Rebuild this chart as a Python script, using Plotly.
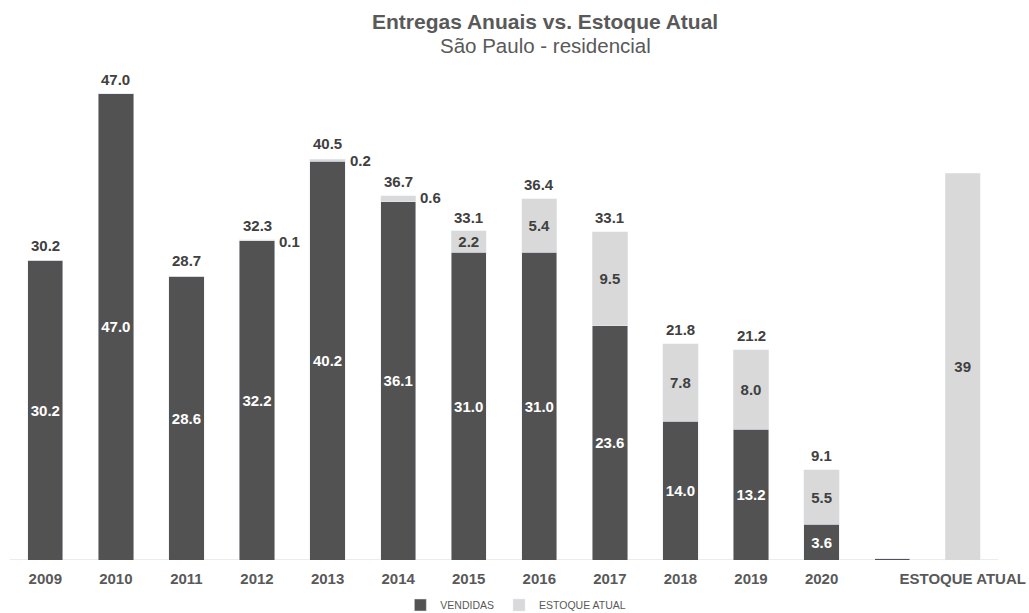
import plotly.graph_objects as go

categories = ["2009", "2010", "2011", "2012", "2013", "2014", "2015", "2016",
              "2017", "2018", "2019", "2020", "", "ESTOQUE ATUAL"]
vendidas = [30.2, 47.0, 28.6, 32.2, 40.2, 36.1, 31.0, 31.0, 23.6, 14.0, 13.2, 3.6, 0.15, 0.0]
estoque = [0.0, 0.0, 0.0, 0.1, 0.2, 0.6, 2.2, 5.4, 9.5, 7.8, 8.0, 5.5, 0.0, 39.0]
totais = [30.2, 47.0, 28.7, 32.3, 40.5, 36.7, 33.1, 36.4, 33.1, 21.8, 21.2, 9.1, None, None]

DARK = "#525252"
LIGHT = "#d9d9d9"
TXT = "#404040"
FONT = "Liberation Sans, Arial, sans-serif"
LBL = 15

x = list(range(len(categories)))

vend_text = [f"{v:.1f}" if v >= 1 else "" for v in vendidas]
est_text = [f"{v:.1f}" if v >= 1 else "" for v in estoque]
est_text[-1] = f"{estoque[-1]:.0f}"

fig = go.Figure()
fig.add_trace(go.Bar(
    x=x, y=vendidas, name="VENDIDAS", marker_color=DARK,
    text=vend_text, textposition="inside", insidetextanchor="middle",
    textangle=0, constraintext="none",
    insidetextfont=dict(color="white", size=LBL, family=FONT, weight="bold"),
    hoverinfo="skip",
))
fig.add_trace(go.Bar(
    x=x, y=estoque, name="ESTOQUE ATUAL", marker_color=LIGHT,
    text=est_text, textposition="inside", insidetextanchor="middle",
    textangle=0, constraintext="none",
    insidetextfont=dict(color=TXT, size=LBL, family=FONT, weight="bold"),
    hoverinfo="skip",
))

annotations = []
for xi, t in zip(x, totais):
    if t is not None:
        annotations.append(dict(
            x=xi, y=t, xref="x", yref="y", text=f"{t:.1f}", showarrow=False,
            xanchor="center", yanchor="bottom", yshift=4,
            font=dict(color=TXT, size=LBL, family=FONT, weight="bold"),
        ))
for xi, v, t in zip(x, estoque, totais):
    if 0.1 <= v < 1 and t is not None:
        annotations.append(dict(
            x=xi, y=t, xref="x", yref="y", text=f"{v:.1f}", showarrow=False,
            xanchor="left", yanchor="middle", xshift=20, yshift=-2,
            font=dict(color=TXT, size=LBL, family=FONT, weight="bold"),
        ))

annotations.append(dict(
    x=0.5415, y=1.0857, xref="paper", yref="paper", showarrow=False,
    text="<b>Entregas Anuais vs. Estoque Atual</b>", xanchor="center", yanchor="middle",
    font=dict(color="#595959", size=21, family=FONT),
))
annotations.append(dict(
    x=0.5415, y=1.0383, xref="paper", yref="paper", showarrow=False,
    text="São Paulo - residencial", xanchor="center", yanchor="middle",
    font=dict(color="#595959", size=20.5, family=FONT),
))

fig.update_layout(
    width=1029, height=613,
    margin=dict(l=10, r=31, t=64, b=53, autoexpand=False),
    barmode="stack", bargap=0.5,
    plot_bgcolor="white", paper_bgcolor="white",
    font=dict(family=FONT, color="#595959"),
    annotations=annotations,
    showlegend=True,
    legend=dict(orientation="h", x=0.512, xanchor="center", y=-0.0907, yanchor="middle",
                font=dict(size=10.5, color="#595959", family=FONT),
                itemwidth=30, traceorder="normal"),
    xaxis=dict(
        tickmode="array", tickvals=x, ticktext=categories,
        range=[-0.5, len(categories) - 0.5],
        showgrid=False, zeroline=False, showline=False,
        ticks="outside", ticklen=5, tickcolor="rgba(0,0,0,0)",
        tickfont=dict(size=LBL, color="#595959", family=FONT, weight="bold"),
    ),
    yaxis=dict(range=[0, 50], visible=False, showgrid=False, zeroline=False),
)
fig.add_shape(type="line", xref="paper", yref="y", x0=0, x1=1, y0=0, y1=0,
              line=dict(color=LIGHT, width=1), layer="below")

fig.write_html("out.html")
